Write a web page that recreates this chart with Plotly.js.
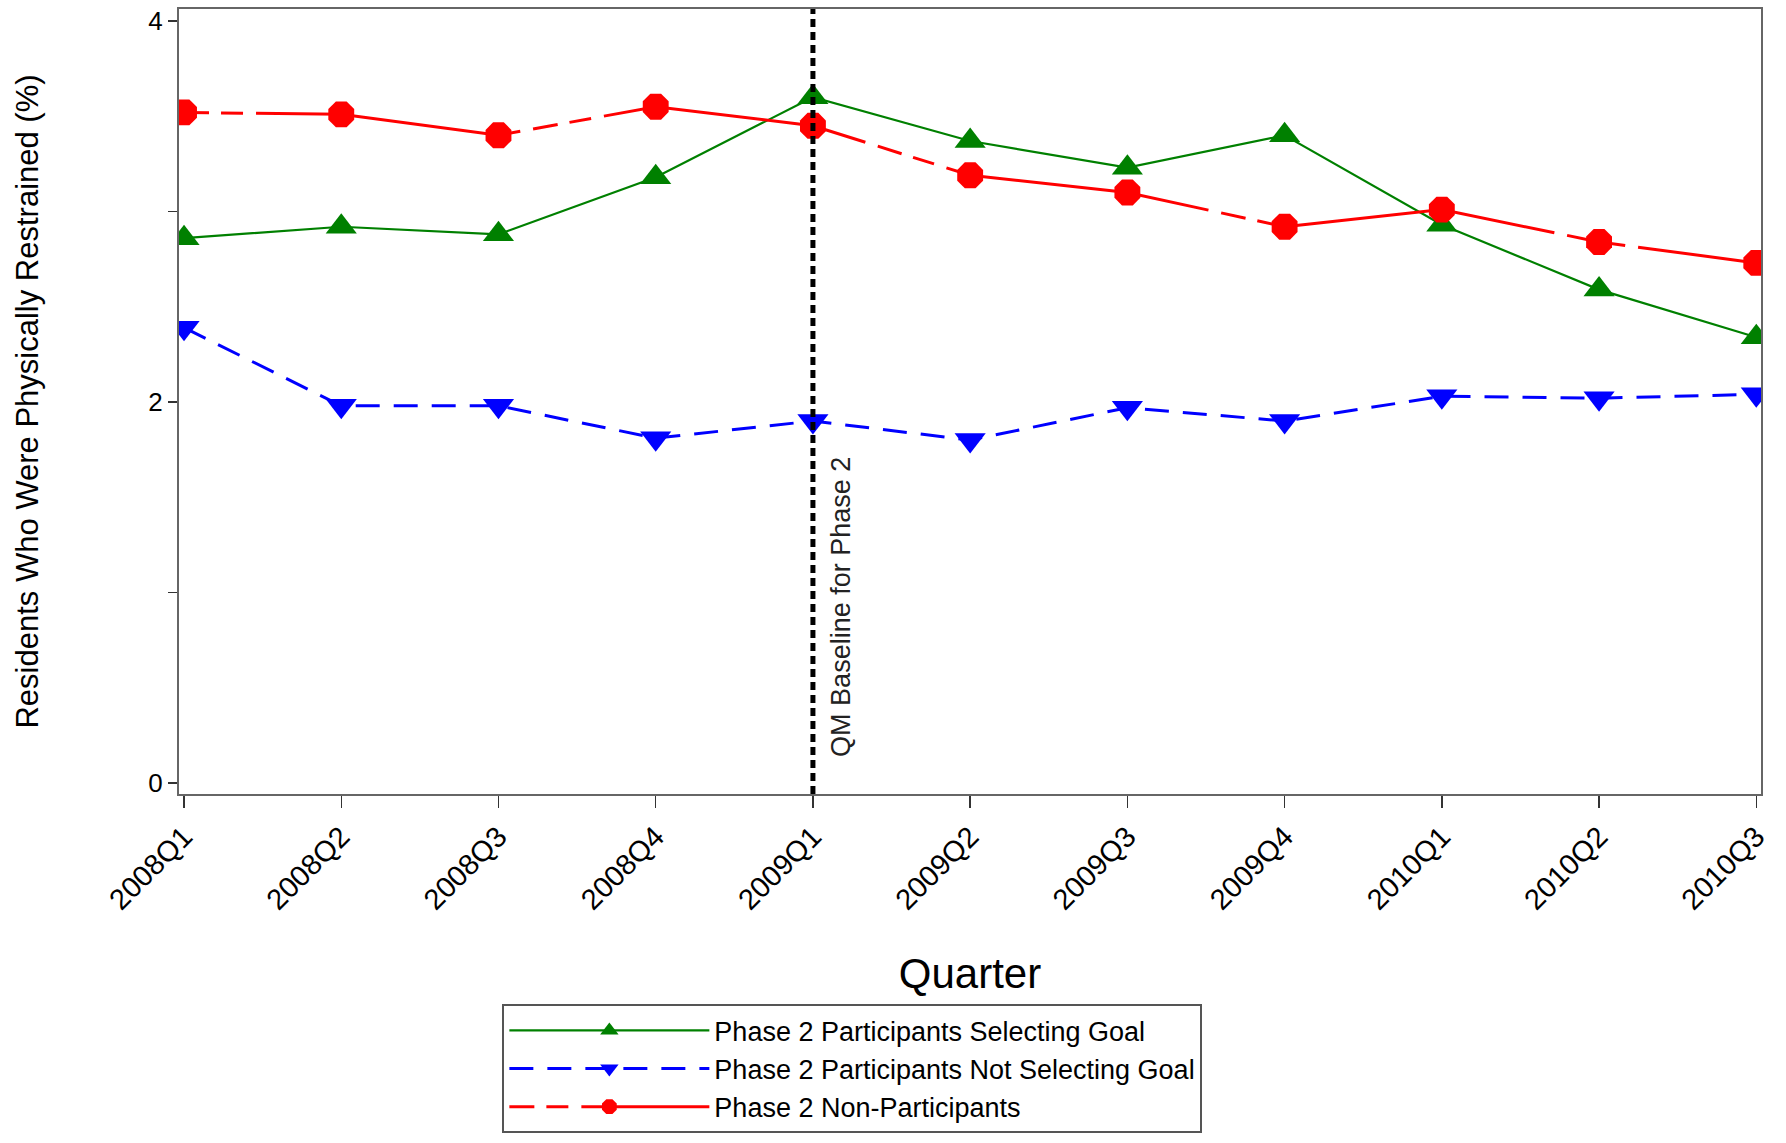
<!DOCTYPE html>
<html>
<head>
<meta charset="utf-8">
<script src="https://cdn.plot.ly/plotly-3.0.1.min.js"></script>
<style>
  html, body { margin: 0; padding: 0; background: #fff; }
  #divPlot { width: 1786px; height: 1143px; }
</style>
</head>
<body>
<div id="divPlot"></div>
<script>
/* Quarters on the x axis */
var quarters = ['2008Q1', '2008Q2', '2008Q3', '2008Q4', '2009Q1', '2009Q2',
                '2009Q3', '2009Q4', '2010Q1', '2010Q2', '2010Q3'];

// Residents physically restrained (%)
var selectingGoal    = [2.86, 2.92, 2.88, 3.18, 3.60, 3.37, 3.23, 3.40, 2.93, 2.59, 2.34];
var notSelectingGoal = [2.39, 1.98, 1.98, 1.81, 1.90, 1.80, 1.97, 1.90, 2.03, 2.02, 2.04];
var nonParticipants  = [3.52, 3.51, 3.40, 3.55, 3.45, 3.19, 3.10, 2.92, 3.01, 2.84, 2.73];

var seriesNames = ['Phase 2 Participants Selecting Goal',
                   'Phase 2 Participants Not Selecting Goal',
                   'Phase 2 Non-Participants'];

var baselineQuarter = '2009Q1';
var baselineLabel = 'QM Baseline for Phase 2';

var yTicks = [0, 1, 2, 3, 4];
var yTickText = ['0', '', '2', '', '4'];

var font = 'Liberation Sans, Arial, sans-serif';

/* Traces */
var trace1 = {
  x : quarters,
  y : selectingGoal,
  mode : 'lines+markers',
  type : 'scatter',
  name : seriesNames[0],
  line : {color : '#008000', width : 2.2},
  marker : {symbol : 'triangle-up', size : 27, color : '#008000'}
};

var trace2 = {
  x : quarters,
  y : notSelectingGoal,
  mode : 'lines+markers',
  type : 'scatter',
  name : seriesNames[1],
  line : {color : '#0000ff', width : 3, dash : '24px,14px'},
  marker : {symbol : 'triangle-down', size : 27, color : '#0000ff'}
};

var trace3 = {
  x : quarters,
  y : nonParticipants,
  mode : 'lines+markers',
  type : 'scatter',
  name : seriesNames[2],
  line : {color : '#ff0000', width : 3,
          dash : '25px,12px,22px,13px,266px,13px'},
  marker : {symbol : 'octagon', size : 28, color : '#ff0000'}
};

var layout = {
  width : 1786,
  height : 1143,
  margin : {l : 179, r : 25, t : 9, b : 339},
  paper_bgcolor : '#fff',
  plot_bgcolor : '#fff',
  font : {family : font, color : '#000'},
  showlegend : true,
  xaxis : {
    type : 'category',
    range : [-0.032, 10.03],
    showgrid : false,
    zeroline : false,
    showline : true,
    mirror : true,
    linecolor : '#666',
    linewidth : 2,
    ticks : 'outside',
    ticklen : 12,
    tickwidth : 1.5,
    tickcolor : '#333',
    tickangle : -45,
    tickfont : {size : 29, color : '#000'},
    title : {text : 'Quarter', font : {size : 42, color : '#000'}, standoff : 44},
    automargin : false
  },
  yaxis : {
    range : [-0.058, 4.063],
    tickvals : yTicks,
    ticktext : yTickText,
    showgrid : false,
    zeroline : false,
    showline : true,
    mirror : true,
    linecolor : '#666',
    linewidth : 2,
    ticks : 'outside',
    ticklen : 9,
    tickwidth : 1.5,
    tickcolor : '#333',
    tickfont : {size : 26, color : '#000'},
    title : {text : 'Residents Who Were Physically Restrained (%)',
             font : {size : 31, color : '#000'}, standoff : 100},
    automargin : false
  },
  legend : {
    x : 0.2044,
    y : -0.268,
    xanchor : 'left',
    yanchor : 'top',
    orientation : 'v',
    bgcolor : '#fff',
    bordercolor : '#555',
    borderwidth : 2,
    itemwidth : 200,
    font : {size : 27, color : '#000'},
    tracegroupgap : 0
  },
  shapes : [{
    type : 'line',
    xref : 'x',
    yref : 'paper',
    x0 : baselineQuarter,
    x1 : baselineQuarter,
    y0 : 0,
    y1 : 1,
    line : {color : '#000', width : 5, dash : '8px,5px'}
  }],
  annotations : [{
    xref : 'x',
    yref : 'y',
    x : baselineQuarter,
    y : 0.126,
    xshift : 28,
    textangle : -90,
    yanchor : 'bottom',
    text : baselineLabel,
    showarrow : false,
    font : {size : 27, color : '#222'}
  }]
};

Plotly.newPlot('divPlot', [ trace1, trace2, trace3 ], layout,
               {displayModeBar : false, staticPlot : true});
</script>
</body>
</html>
